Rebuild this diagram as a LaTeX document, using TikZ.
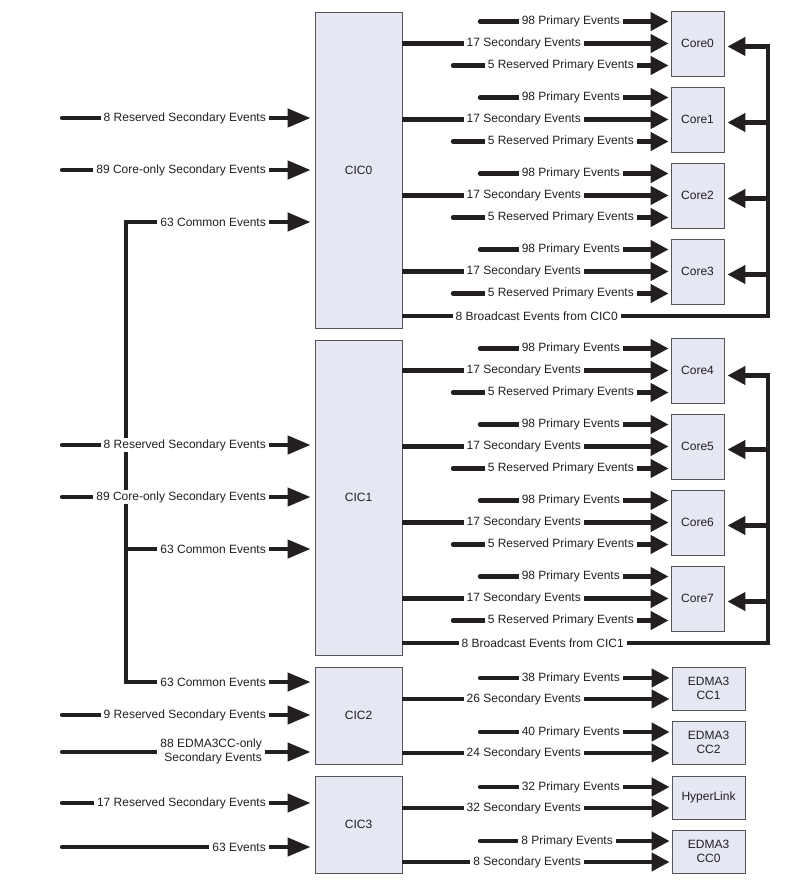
\documentclass[tikz,border=0pt]{standalone}
\usepackage{fontspec}
\setmainfont{Liberation Sans}
\usetikzlibrary{arrows.meta}
\definecolor{ink}{RGB}{35,31,32}
\definecolor{boxfill}{RGB}{229,231,242}
\definecolor{boxline}{RGB}{85,85,90}
\begin{document}
\begin{tikzpicture}[x=1pt,y=-1pt,
  font=\fontsize{12}{13.5}\selectfont, text=ink,
  box/.style={draw=boxline, line width=0.9pt, fill=boxfill, inner sep=0pt, align=center},
  cic/.style={box, minimum width=87pt},
  core/.style={box, minimum width=53pt, minimum height=65pt},
  per/.style={box, minimum width=73pt, minimum height=43pt},
  evtR/.style={draw=ink, line width=4.3pt, line cap=round, -{Triangle[length=18pt,width=18pt]}, shorten >=2pt},
  evtS/.style={draw=ink, line width=4.3pt, line cap=butt, -{Triangle[length=18pt,width=18pt]}, shorten >=2pt},
  evtL/.style={draw=ink, line width=4.3pt, line cap=round, -{Triangle[length=23pt,width=18pt]}, shorten >=4pt},
  evtT/.style={draw=ink, line width=4.3pt, line cap=rect, line join=miter, -{Triangle[length=23pt,width=18pt]}, shorten >=4pt},
  evtB/.style={draw=ink, line width=4.3pt, line cap=butt, line join=miter, -{Triangle[length=18pt,width=18pt]}, shorten >=3pt},
  lbl/.style={fill=white, inner xsep=3pt, inner ysep=1pt, anchor=east}
]
\useasboundingbox (0,0) rectangle (800,890);

% CIC boxes
\node[cic, minimum height=316pt] (cic0) at (358.5,170) {CIC0};
\node[cic, minimum height=315pt] (cic1) at (358.5,497.5) {CIC1};
\node[cic, minimum height=97pt] (cic2) at (358.5,715.5) {CIC2};
\node[cic, minimum height=97pt] (cic3) at (358.5,824.5) {CIC3};

% Cores
\foreach \i/\c/\src in {0/43.5/cic0, 1/119.5/cic0, 2/195.5/cic0, 3/271.5/cic0,
                        4/370.5/cic1, 5/446.5/cic1, 6/522.5/cic1, 7/598.5/cic1} {
  \node[core] (core\i) at (697.5,\c) {Core\i};
  \coordinate (p\i) at (480,{\c-22});
  \coordinate (r\i) at (453,{\c+22});
  \draw[evtR] (p\i) -- ([yshift=22pt]core\i.west);
  \draw[evtS] (\src.east |- core\i.west) -- (core\i.west);
  \draw[evtR] (r\i) -- ([yshift=-22pt]core\i.west);
  \node[lbl] (lp\i) at (623,{\c-22}) {98 Primary Events};
  \node[lbl] (ls\i) at (584,\c) {17 Secondary Events};
  \node[lbl] (lr\i) at (637,{\c+22}) {5 Reserved Primary Events};
}

% Broadcast from CIC0
\coordinate (bc0) at (768,316);
\draw[evtB] (cic0.east |- bc0) -- (bc0) -- ([yshift=-3pt]core0.east -| bc0) -- ([yshift=-3pt]core0.east);
\foreach \i in {1,2,3} { \draw[evtB] ([yshift=-3pt]core\i.east -| bc0) -- ([yshift=-3pt]core\i.east); }
\node[lbl] (lb0) at (621,316) {8 Broadcast Events from CIC0};

% Broadcast from CIC1
\coordinate (bc1) at (768,643);
\draw[evtB] (cic1.east |- bc1) -- (bc1) -- ([yshift=-5pt]core4.east -| bc1) -- ([yshift=-5pt]core4.east);
\foreach \i in {5,6,7} { \draw[evtB] ([yshift=-3pt]core\i.east -| bc1) -- ([yshift=-3pt]core\i.east); }
\node[lbl] (lb1) at (627,643) {8 Broadcast Events from CIC1};

% Peripherals
\node[per] (cc1) at (708.5,688.5) {EDMA3\\CC1};
\node[per] (cc2) at (708.5,742.5) {EDMA3\\CC2};
\node[per] (hl)  at (708.5,797.5) {HyperLink};
\node[per] (cc0) at (708.5,851.5) {EDMA3\\CC0};

\coordinate (xp) at (480,0);
\coordinate (xs) at (584,0);
\foreach \n/\src/\pl/\sl/\pe in {cc1/cic2/38 Primary Events/26 Secondary Events/623,
                             cc2/cic2/40 Primary Events/24 Secondary Events/623,
                             hl/cic3/32 Primary Events/32 Secondary Events/623,
                             cc0/cic3/8 Primary Events/8 Secondary Events/616} {
  \coordinate (xe\n) at (\pe,0);
  \coordinate (pt\n) at ([yshift=10.5pt]\n.west);
  \coordinate (st\n) at ([yshift=-10.5pt]\n.west);
  \coordinate (pp\n) at (pt\n -| xp);
  \draw[evtR] (pp\n) -- (pt\n);
  \draw[evtS] (\src.east |- st\n) -- (st\n);
  \node[lbl] (lpp\n) at (pt\n -| xe\n) {\pl};
  \node[lbl] (lss\n) at (st\n -| xs) {\sl};
}

% Common events tree (drawn first, labels cover it)
\coordinate (cTop) at (126,222);
\coordinate (cMid) at (126,549);
\coordinate (cBot) at (126,682);
\draw[evtT] (cTop) -- (cic0.west |- cTop);
\draw[evtT] (cTop) -- (cBot) -- (cic2.west |- cBot);
\draw[evtT] (cMid) -- (cic1.west |- cMid);
\node[lbl] (lc0) at (269,222) {63 Common Events};
\node[lbl] (lc1) at (269,549) {63 Common Events};
\node[lbl] (lc2) at (269,682) {63 Common Events};

% Left inputs
\foreach \y/\t/\tgt in {118/8 Reserved Secondary Events/cic0,
                     170/89 Core-only Secondary Events/cic0,
                     445/8 Reserved Secondary Events/cic1,
                     497/89 Core-only Secondary Events/cic1,
                     715/9 Reserved Secondary Events/cic2,
                     803/17 Reserved Secondary Events/cic3,
                     847/63 Events/cic3} {
  \coordinate (in\y) at (62,\y);
  \draw[evtL] (in\y) -- (\tgt.west |- in\y);
  \node[lbl] (lin\y) at (269,\y) {\t};
}
\coordinate (in752) at (62,752);
\draw[evtL] (in752) -- (cic2.west |- in752);
\node[lbl, align=right, inner ysep=0pt] (lin752) at (265,751.5) {88 EDMA3CC-only\\Secondary Events};
\end{tikzpicture}
\end{document}
